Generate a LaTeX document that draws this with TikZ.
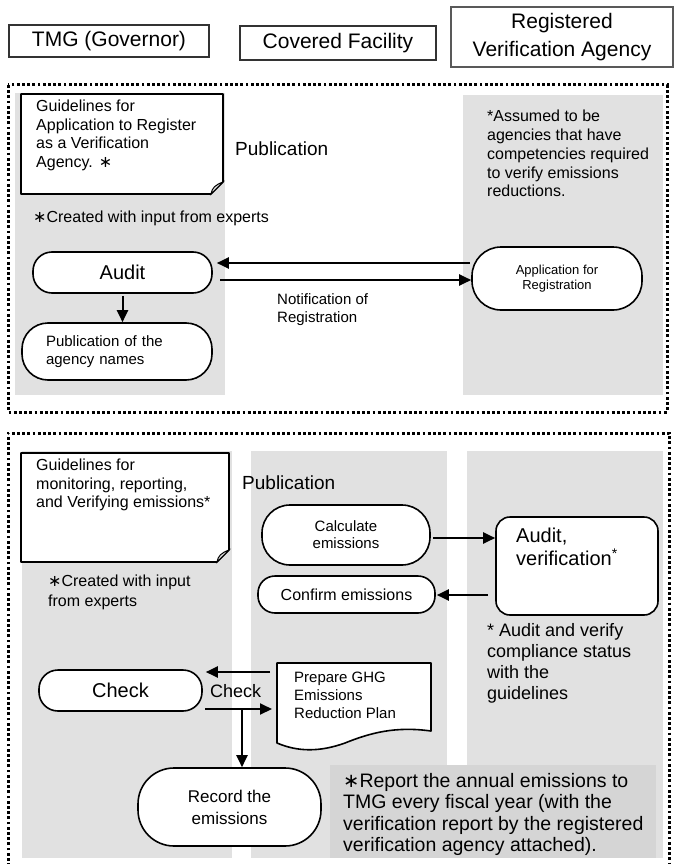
\documentclass[tikz,border=0pt]{standalone}
\usepackage{fontspec}
\setmainfont{Liberation Sans}
\newfontfamily\symf{DejaVu Sans}
\usetikzlibrary{arrows.meta,calc}
\newcommand\fs[2]{\fontsize{#1}{#2}\selectfont}
\newcommand\opstar{{\symf ∗}}
\definecolor{bandgray}{HTML}{E1E1E1}
\definecolor{notegray}{HTML}{D5D5D5}
\definecolor{hdrline}{HTML}{333333}

\begin{document}
\begin{tikzpicture}[x=1pt,y=-1pt,
  hdrbox/.style={draw=hdrline, line width=1.2pt, inner sep=0pt, align=center, font=\fs{21}{28}},
  pill/.style={draw, fill=white, line width=1.6pt, inner sep=0pt, align=center},
  txt/.style={inner sep=0pt, anchor=north west, align=left},
  band/.style={fill=bandgray, draw=none},
  frameline/.style={line width=3pt, dash pattern=on 2.8pt off 2.4pt},
  docline/.style={draw, fill=white, line width=1.6pt, line join=round},
  flow/.style={line width=2pt, -{Triangle[length=12pt,width=11pt]}},
]
\useasboundingbox (0,0) rectangle (675,864);
\fill[white] (0,0) rectangle (675,864);

% ---------- column headings ----------
\node[hdrbox, minimum width=200pt, minimum height=32pt] (tmg) at (109,41) {TMG (Governor)};
\node[hdrbox, minimum width=196pt, minimum height=34pt] (fac) at (338,43) {Covered Facility};
\node[hdrbox, draw=black!65, minimum width=222pt, minimum height=60pt] (rva) at (562,37) {Registered\\Verification Agency};

% ---------- registration of verification agencies ----------
\fill[band] (15,93) rectangle (225,395);
\fill[band] (463,95) rectangle (663,395);
\draw[frameline] (8,85) rectangle (667,412);

% guideline document with folded corner
\path[docline] (21,94) -- (223,94) -- (223,182) -- (211,194) -- (21,194) -- cycle;
\draw[line width=1pt, fill=bandgray] (211,194) .. controls (212,188) and (215,185) .. (223,182) -- cycle;
\node[txt, font=\fs{16}{18.5}] (guide1) at (36,100) {Guidelines for\\Application to Register\\as a Verification\\Agency. \opstar};
\node[txt, font=\fs{19}{22}] (pub1) at (235,142) {Publication};
\node[txt, font=\fs{16}{19}] (exp1) at (33,211) {\opstar Created with input from experts};
\node[txt, font=\fs{16}{18.75}] (assume) at (487,110) {*Assumed to be\\agencies that have\\competencies required\\to verify emissions\\reductions.};

\node[pill, font=\fs{20}{24}, minimum width=179pt, minimum height=41pt, rounded corners=19pt] (audit) at (122.5,272.5) {Audit};
\node[pill, font=\fs{13}{15.5}, minimum width=170pt, minimum height=63pt, rounded corners=29pt] (app) at (557,278.5) {Application for\\Registration};
\node[pill, font=\fs{15}{17.5}, minimum width=190pt, minimum height=57pt, rounded corners=26pt, align=left, text width=142pt] (names) at (117,351.5) {Publication of the\\agency names};

\coordinate (apl) at (470,263);
\draw[flow, shorten >=4pt] (apl) -- (apl -| audit.east);
\coordinate (nor) at (220,280);
\draw[flow] (nor) -- (nor -| app.west);
\node[txt, font=\fs{15}{18}] (notif) at (277,293) {Notification of\\Registration};
\draw[flow, shorten <=2pt] (audit.south) -- (audit.south |- names.north);

% ---------- monitoring, reporting and verification ----------
\fill[band] (22,451) rectangle (232,858);
\fill[band] (251,451) rectangle (447,858);
\fill[band] (467,451) rectangle (663,858);
\draw[frameline] (8,866) -- (8,433) -- (669,433) -- (669,866);

\path[docline] (21,453) -- (229,453) -- (229,550) -- (217,562) -- (21,562) -- cycle;
\draw[line width=1pt, fill=bandgray] (217,562) .. controls (218,556) and (221,553) .. (229,550) -- cycle;
\node[txt, font=\fs{16}{18.5}] (guide2) at (36,459) {Guidelines for\\monitoring, reporting,\\and Verifying emissions*};
\node[txt, font=\fs{16}{20}] (exp2) at (48,575) {\opstar Created with input\\from experts};
\node[txt, font=\fs{19}{22}] (pub2) at (242,476) {Publication};

\node[pill, font=\fs{15}{17}, minimum width=168pt, minimum height=60pt, rounded corners=28pt] (calc) at (346,535) {Calculate\\emissions};
\node[pill, font=\fs{16}{19}, minimum width=177pt, minimum height=37pt, rounded corners=17pt] (confirm) at (346.5,594.5) {Confirm emissions};
\node[pill, minimum width=162pt, minimum height=98pt, rounded corners=14pt] (verify) at (577,566) {};
\node[txt, font=\fs{20}{23}] (verifytxt) at (516,528) {Audit,\\verification\textsuperscript{*}};
\node[txt, font=\fs{18}{21}] (vnote) at (487,623) {* Audit and verify\\compliance status\\with the\\guidelines};

\coordinate (cv) at (433,538);
\draw[flow] (cv) -- (cv -| verify.west);
\coordinate (vc) at (488,595);
\draw[flow, shorten >=1pt] (vc) -- (vc -| confirm.east);

% check / reduction plan / record
\node[pill, font=\fs{20}{24}, minimum width=163pt, minimum height=41pt, rounded corners=19pt] (check) at (120.5,690.5) {Check};
\path[docline] (277,663) -- (431,663) -- (431,731)
  .. controls (395,726) and (370,733) .. (345,743)
  .. controls (320,752) and (298,752) .. (277,743) -- cycle;
\coordinate (docL) at (277,700);
\node[txt, font=\fs{15}{18}] (plan) at (294,672) {Prepare GHG\\Emissions\\Reduction Plan};
\node[pill, font=\fs{17}{22}, minimum width=183pt, minimum height=78pt, rounded corners=36pt] (record) at (229.5,807) {Record the\\emissions};

\coordinate (pk) at (270,672);
\draw[flow, shorten >=3pt] (pk) -- (pk -| check.east);
\node[txt, font=\fs{18}{21}] (checklbl) at (210,684) {Check};
\coordinate (kp) at (205,709);
\draw[flow, shorten >=5pt] (kp) -- (kp -| docL);
\coordinate (kr) at (242,709);
\draw[flow] (kr) -- (kr |- record.north);

\node[fill=notegray, anchor=north west, minimum width=326pt, minimum height=93pt, inner sep=0pt] (note) at (330,765) {};
\node[txt, font=\fs{19.5}{21.5}] (notetxt) at (343,773) {\opstar Report the annual emissions to\\TMG every fiscal year (with the\\verification report by the registered\\verification agency attached).};
\end{tikzpicture}
\end{document}
